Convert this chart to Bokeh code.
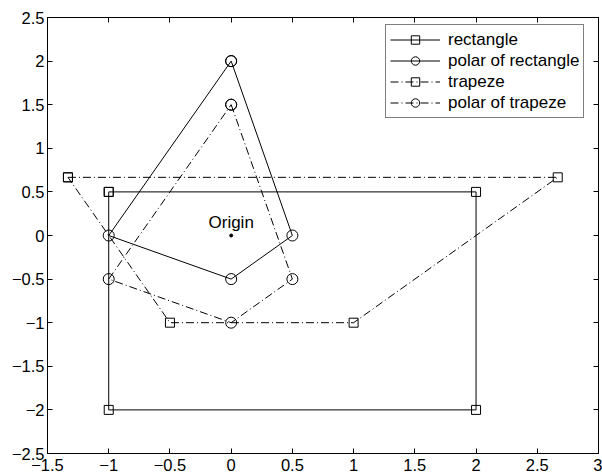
from bokeh.plotting import figure
from bokeh.models import FixedTicker, LinearAxis, Range1d
from bokeh.embed import file_html
from bokeh.resources import INLINE
from bokeh.core.properties import value

# ---- data ----
rect_x = [-1, 2, 2, -1, -1]
rect_y = [0.5, 0.5, -2, -2, 0.5]
polrect_x = [0, 0.5, 0, -1, 0]
polrect_y = [2, 0, -0.5, 0, 2]
trap_x = [-1.333, 2.667, 1, -0.5, -1.333]
trap_y = [0.667, 0.667, -1, -1, 0.667]
poltrap_x = [0, 0.5, 0, -1, 0]
poltrap_y = [1.5, -0.5, -1, -0.5, 1.5]
origin_x = [0]
origin_y = [0]
origin_label = ["Origin"]

x_ticks = [-1.5, -1, -0.5, 0, 0.5, 1, 1.5, 2, 2.5, 3]
x_tick_labels = ["\u22121.5", "\u22121", "\u22120.5", "0", "0.5", "1", "1.5", "2", "2.5", "3"]
y_ticks = [-2.5, -2, -1.5, -1, -0.5, 0, 0.5, 1, 1.5, 2, 2.5]
y_tick_labels = ["\u22122.5", "\u22122", "\u22121.5", "\u22121", "\u22120.5", "0", "0.5", "1", "1.5", "2", "2.5"]

FONT = "Liberation Sans"

p = figure(width=602, height=476, output_backend="svg", toolbar_location=None,
           x_range=Range1d(-1.5, 3), y_range=Range1d(-2.5, 2.5),
           min_border_left=47, min_border_right=4, min_border_top=17, min_border_bottom=23)
p.grid.visible = False
p.outline_line_color = "black"
p.outline_line_width = 1
p.background_fill_color = "white"
p.border_fill_color = "white"

def style_axis(ax, ticks, labels, show_labels=True):
    ax.ticker = FixedTicker(ticks=ticks)
    ax.minor_tick_line_color = None
    ax.major_tick_in = 5
    ax.major_tick_out = 0
    ax.major_tick_line_color = "black"
    ax.axis_line_color = "black"
    ax.axis_line_width = 1
    ax.major_label_text_font = FONT
    ax.major_label_text_color = "black"
    if show_labels:
        ax.major_label_overrides = {t: l for t, l in zip(ticks, labels)}
        ax.major_label_text_font_size = "16.5px"
    else:
        ax.major_label_overrides = {t: "" for t in ticks}
        ax.major_label_text_font_size = "1px"
        ax.major_label_standoff = 0

style_axis(p.xaxis[0], x_ticks, x_tick_labels)
style_axis(p.yaxis[0], y_ticks, y_tick_labels)
p.xaxis[0].major_label_standoff = 5
p.yaxis[0].major_label_standoff = 3
top = LinearAxis()
right = LinearAxis()
style_axis(top, x_ticks, x_tick_labels, False)
style_axis(right, y_ticks, y_tick_labels, False)
p.add_layout(top, "above")
p.add_layout(right, "right")

DASHDOT = "8 3 1 3"

p.line(rect_x, rect_y, line_color="black", line_width=1, legend_label="rectangle")
p.scatter(rect_x, rect_y, marker="square", size=9, fill_color=None, line_color="black",
          line_width=1, legend_label="rectangle")

p.line(polrect_x, polrect_y, line_color="black", line_width=1, legend_label="polar of rectangle")
p.scatter(polrect_x, polrect_y, marker="circle", size=11, fill_color=None, line_color="black",
          line_width=1, legend_label="polar of rectangle")

p.line(trap_x, trap_y, line_color="black", line_width=1, line_dash=DASHDOT, legend_label="trapeze")
p.scatter(trap_x, trap_y, marker="square", size=9, fill_color=None, line_color="black",
          line_width=1, legend_label="trapeze")

p.line(poltrap_x, poltrap_y, line_color="black", line_width=1, line_dash=DASHDOT,
       legend_label="polar of trapeze")
p.scatter(poltrap_x, poltrap_y, marker="circle", size=11, fill_color=None, line_color="black",
          line_width=1, legend_label="polar of trapeze")

p.scatter(origin_x, origin_y, marker="circle", size=3, fill_color="black", line_color="black")
p.text(origin_x, origin_y, text=origin_label, text_align="center", text_baseline="bottom",
       y_offset=-4, text_font=value(FONT), text_font_size="17px", text_color="black")

lg = p.legend[0]
lg.location = (338, 335)
lg.margin = 0
lg.padding = 4
lg.spacing = 0
lg.glyph_width = 50
lg.glyph_height = 21
lg.label_standoff = 8
lg.label_height = 21
lg.label_text_font = FONT
lg.label_text_font_size = "17px"
lg.label_text_color = "black"
lg.border_line_color = "black"
lg.border_line_width = 1
lg.background_fill_color = "white"
lg.background_fill_alpha = 1.0

open("out.html", "w").write(file_html(p, INLINE))
